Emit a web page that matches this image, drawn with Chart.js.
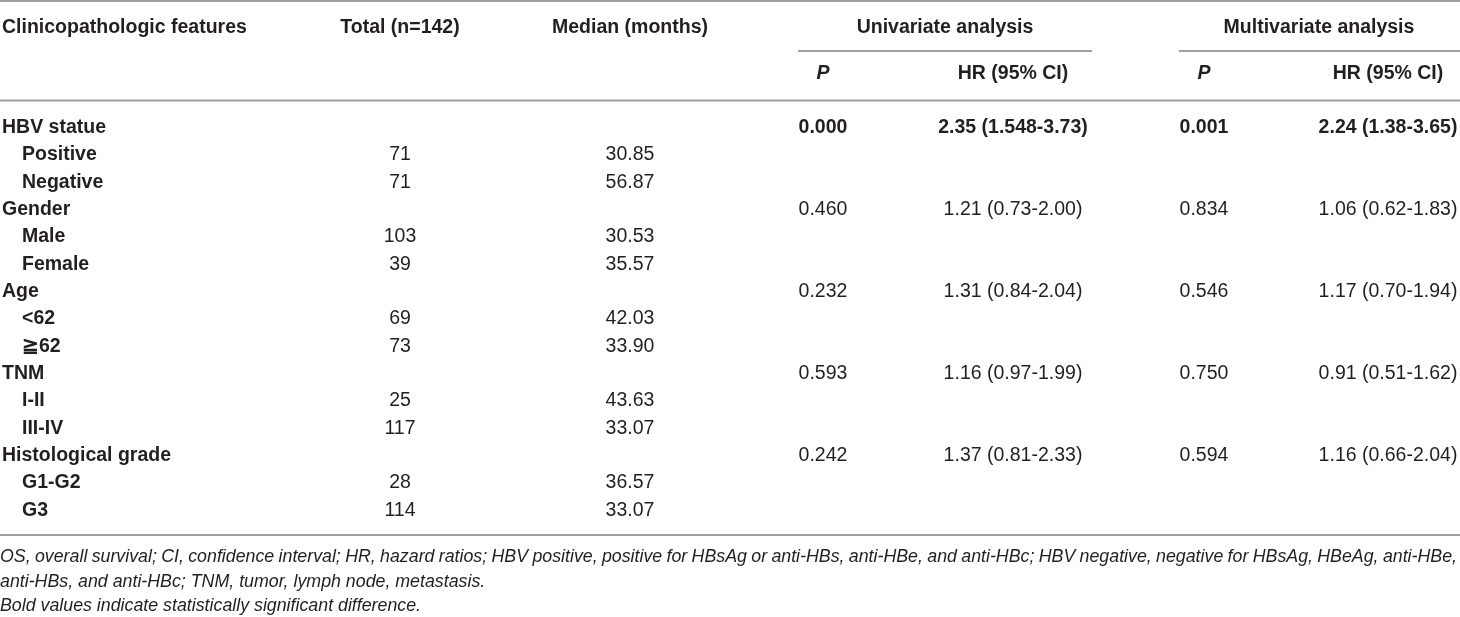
<!DOCTYPE html>
<html>
<head>
<meta charset="utf-8">
<script src="https://cdn.jsdelivr.net/npm/chart.js@4"></script>
<style>
  html, body { margin: 0; padding: 0; background: #fff; }
  canvas { display: block; }
</style>
</head>
<body>
<canvas id="myChart" width="1460" height="617"></canvas>
<script>
const canvas = document.getElementById('myChart');
const ctx = canvas.getContext('2d');

// table data
const groups = ['HBV statue', 'Gender', 'Age', 'TNM', 'Histological grade'];
const subgroups = [
    ['Positive', 'Negative'],
    ['Male', 'Female'],
    ['<62', '≧62'],
    ['I-II', 'III-IV'],
    ['G1-G2', 'G3']
];
const totals = [[71, 71], [103, 39], [69, 73], [25, 117], [28, 114]];
const medians = [[30.85, 56.87], [30.53, 35.57], [42.03, 33.90], [43.63, 33.07], [36.57, 33.07]];

const uniP = [0.000, 0.460, 0.232, 0.593, 0.242];
const uniHR = [2.35, 1.21, 1.31, 1.16, 1.37];
const uniLow = [1.548, 0.73, 0.84, 0.97, 0.81];
const uniHigh = [3.73, 2.00, 2.04, 1.99, 2.33];

const multiP = [0.001, 0.834, 0.546, 0.750, 0.594];
const multiHR = [2.24, 1.06, 1.17, 0.91, 1.16];
const multiLow = [1.38, 0.62, 0.70, 0.51, 0.66];
const multiHigh = [3.65, 1.83, 1.94, 1.62, 2.04];

const significant = [true, false, false, false, false];

const headers = ['Clinicopathologic features', 'Total (n=142)', 'Median (months)', 'Univariate analysis', 'Multivariate analysis'];
const subHeaders = ['P', 'HR (95% CI)', 'P', 'HR (95% CI)'];
const footnotes = [
    'OS, overall survival; CI, confidence interval; HR, hazard ratios; HBV positive, positive for HBsAg or anti-HBs, anti-HBe, and anti-HBc; HBV negative, negative for HBsAg, HBeAg, anti-HBe,',
    'anti-HBs, and anti-HBc; TNM, tumor, lymph node, metastasis.',
    'Bold values indicate statistically significant difference.'
];

// layout (table units = page pixels)
const W = 1460, H = 617;
const firstRow = 127.5, rowPitch = 27.35;
const col = { feature: 2, indent: 22, total: 400, median: 630, uniP: 823, uniHR: 1013, multiP: 1204, multiHR: 1388 };
const headY = 27.5, subHeadY = 74;
const rules = [
    { y: 1, x0: 0, x1: W },
    { y: 51, x0: 798, x1: 1092 },
    { y: 51, x0: 1179, x1: W },
    { y: 100.5, x0: 0, x1: W },
    { y: 535, x0: 0, x1: W }
];
const footY = [557.5, 582, 606.5];
const footWidth = 1457;   // first footnote line is justified to this width
const textColor = '#231f20';
const ruleColor = '#a0a0a0';
const FONT = '"Liberation Sans", Arial, Helvetica, sans-serif';
const fontSize = 19.5;
const footSize = 17.8;

function rowY(i) { return firstRow + i * rowPitch; }
function fmt(v) {
    const dec = (String(v).split('.')[1] || '').length;
    return v.toFixed(Math.max(2, dec));
}
function ci(hr, lo, hi) { return fmt(hr) + ' (' + fmt(lo) + '-' + fmt(hi) + ')'; }

// one dataset per column, points placed on the scales
const cols = {
    feature: [], total: [], median: [], uniP: [], uniHR: [], multiP: [], multiHR: []
};
groups.forEach((g, gi) => {
    const r = gi * 3;
    const b = significant[gi];
    cols.feature.push({ x: col.feature, y: rowY(r), text: g, bold: true });
    cols.uniP.push({ x: col.uniP, y: rowY(r), text: uniP[gi].toFixed(3), bold: b });
    cols.uniHR.push({ x: col.uniHR, y: rowY(r), text: ci(uniHR[gi], uniLow[gi], uniHigh[gi]), bold: b });
    cols.multiP.push({ x: col.multiP, y: rowY(r), text: multiP[gi].toFixed(3), bold: b });
    cols.multiHR.push({ x: col.multiHR, y: rowY(r), text: ci(multiHR[gi], multiLow[gi], multiHigh[gi]), bold: b });
    subgroups[gi].forEach((s, si) => {
        const rr = r + 1 + si;
        cols.feature.push({ x: col.indent, y: rowY(rr), text: s, bold: true });
        cols.total.push({ x: col.total, y: rowY(rr), text: String(totals[gi][si]), bold: false });
        cols.median.push({ x: col.median, y: rowY(rr), text: medians[gi][si].toFixed(2), bold: false });
    });
});

const datasets = Object.keys(cols).map(k => ({
    label: k,
    data: cols[k],
    align: k === 'feature' ? 'left' : 'center',
    pointRadius: 0,
    showLine: false
}));

// draw a line of words spread to a given width
function justify(c, text, x, y, width) {
    const words = text.split(' ');
    const wordsW = words.reduce((s, w) => s + c.measureText(w).width, 0);
    const gap = (width - wordsW) / (words.length - 1);
    let cx = x;
    words.forEach(w => {
        c.fillText(w, cx, y);
        cx += c.measureText(w).width + gap;
    });
}

const tablePlugin = {
    id: 'tableText',
    afterDatasetsDraw(chart) {
        const c = chart.ctx;
        const xs = chart.scales.x, ys = chart.scales.y;
        c.save();
        c.fillStyle = textColor;
        c.textBaseline = 'middle';

        // rules
        c.strokeStyle = ruleColor;
        c.lineWidth = 2;
        rules.forEach(r => {
            const y = ys.getPixelForValue(r.y);
            c.beginPath();
            c.moveTo(xs.getPixelForValue(r.x0), y);
            c.lineTo(xs.getPixelForValue(r.x1), y);
            c.stroke();
        });

        // header
        c.font = 'bold ' + fontSize + 'px ' + FONT;
        const hy = ys.getPixelForValue(headY);
        c.textAlign = 'left';
        c.fillText(headers[0], xs.getPixelForValue(col.feature), hy);
        c.textAlign = 'center';
        c.fillText(headers[1], xs.getPixelForValue(col.total), hy);
        c.fillText(headers[2], xs.getPixelForValue(col.median), hy);
        c.fillText(headers[3], xs.getPixelForValue((rules[1].x0 + rules[1].x1) / 2), hy);
        c.fillText(headers[4], xs.getPixelForValue(1319), hy);

        const sy = ys.getPixelForValue(subHeadY);
        [col.uniP, col.uniHR, col.multiP, col.multiHR].forEach((x, i) => {
            c.font = (subHeaders[i] === 'P' ? 'italic bold ' : 'bold ') + fontSize + 'px ' + FONT;
            c.fillText(subHeaders[i], xs.getPixelForValue(x), sy);
        });

        // body cells from dataset elements
        chart.data.datasets.forEach((ds, di) => {
            const meta = chart.getDatasetMeta(di);
            c.textAlign = ds.align;
            meta.data.forEach((el, i) => {
                const d = ds.data[i];
                c.font = (d.bold ? 'bold ' : '') + fontSize + 'px ' + FONT;
                c.fillText(d.text, el.x, el.y);
            });
        });

        // footnotes
        c.textAlign = 'left';
        c.font = 'italic ' + footSize + 'px ' + FONT;
        const fx = xs.getPixelForValue(0);
        justify(c, footnotes[0], fx, ys.getPixelForValue(footY[0]),
            xs.getPixelForValue(footWidth) - fx);
        for (let i = 1; i < footnotes.length; i++) {
            c.fillText(footnotes[i], fx, ys.getPixelForValue(footY[i]));
        }
        c.restore();
    }
};

var myChart = new Chart(ctx, {
    type: 'scatter',
    data: { datasets: datasets },
    options: {
        responsive: false,
        animation: false,
        events: [],
        layout: { padding: 0 },
        plugins: { legend: { display: false }, tooltip: { enabled: false } },
        scales: {
            x: { type: 'linear', min: 0, max: W, display: false },
            y: { type: 'linear', min: 0, max: H, reverse: true, display: false }
        }
    },
    plugins: [tablePlugin]
});
</script>
</body>
</html>
